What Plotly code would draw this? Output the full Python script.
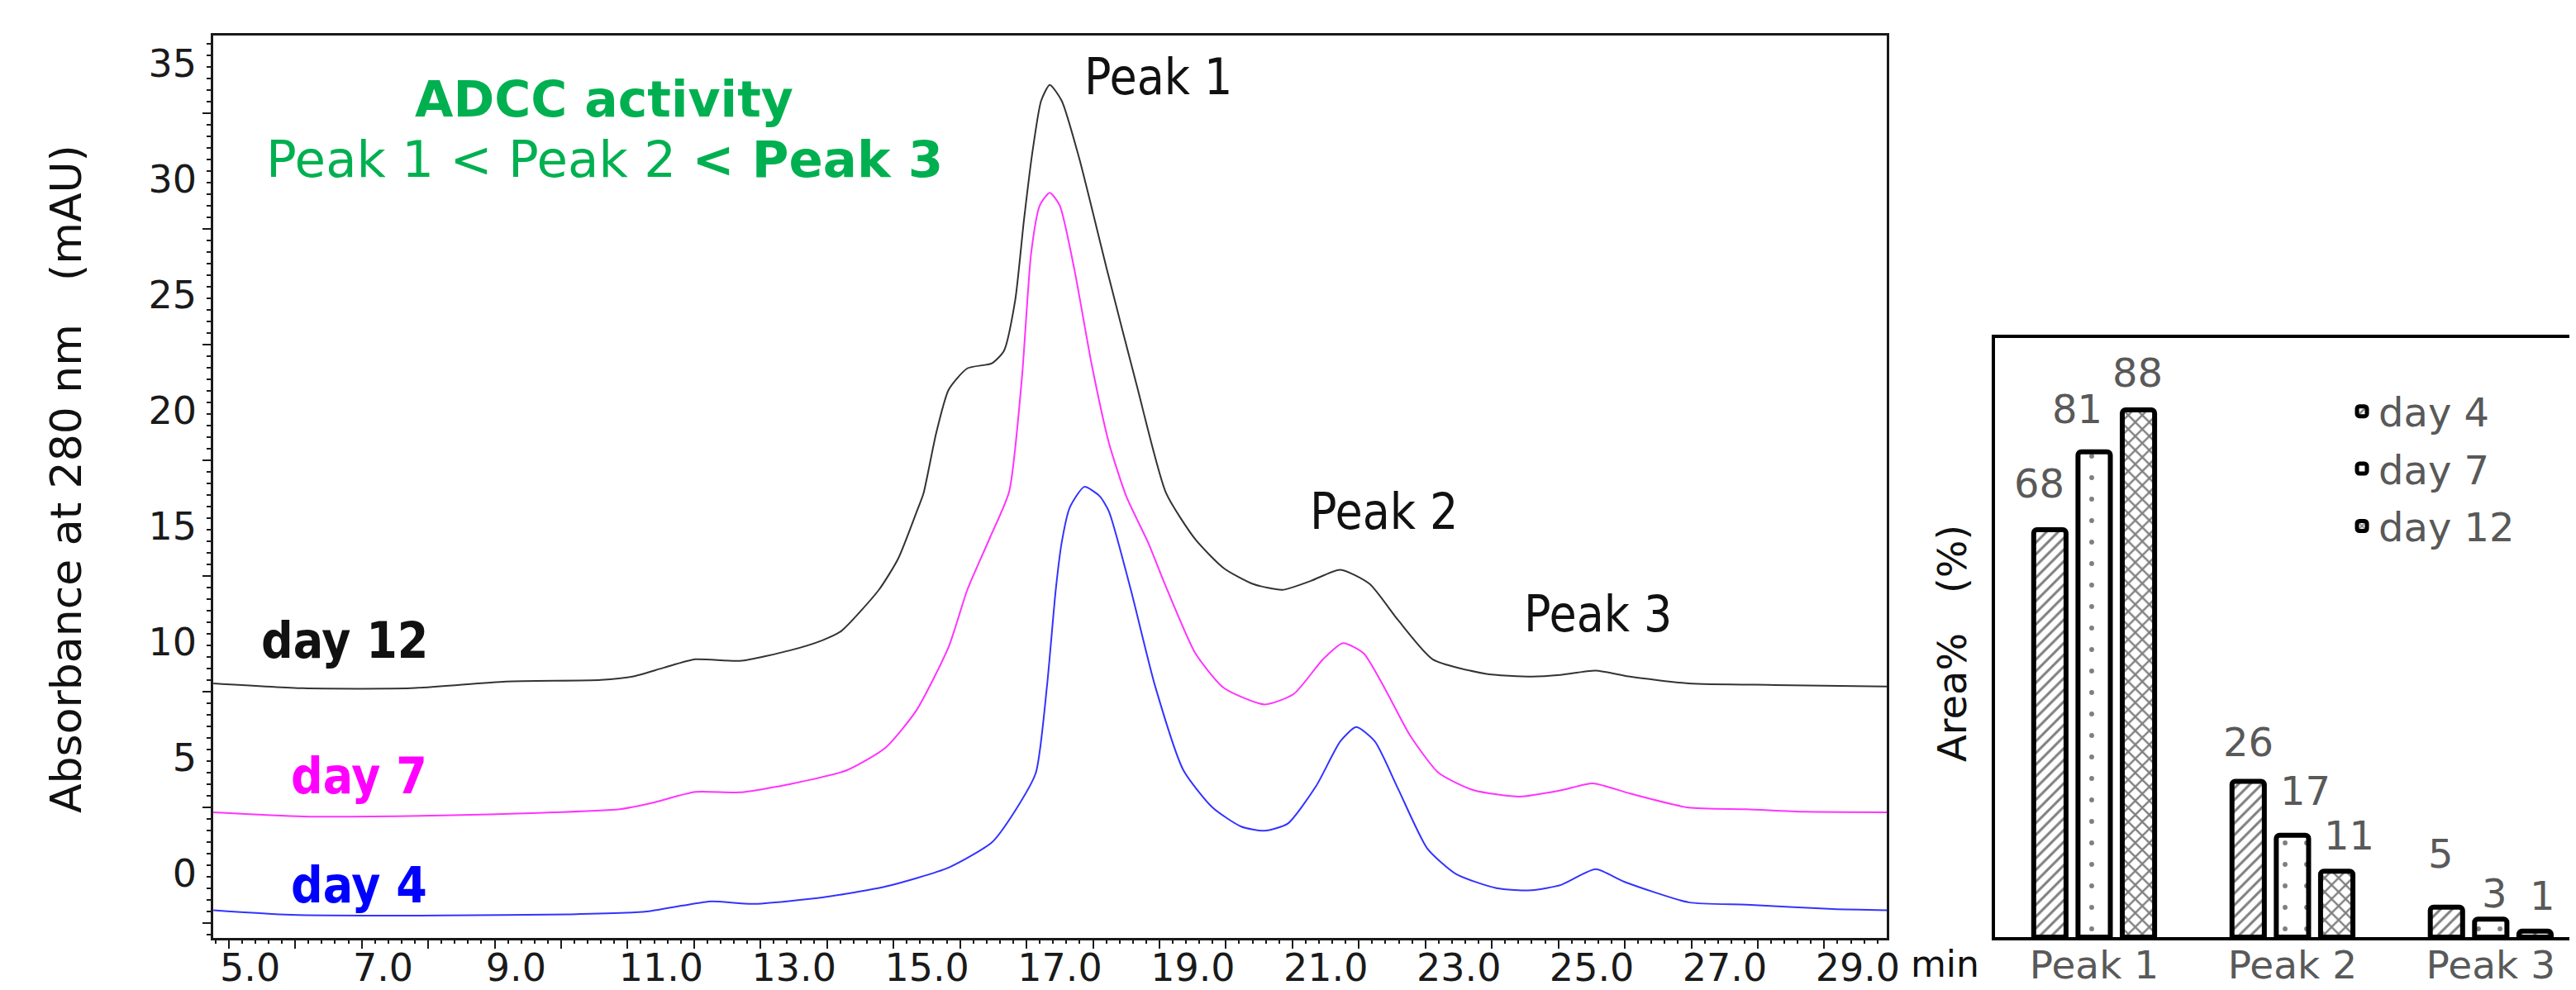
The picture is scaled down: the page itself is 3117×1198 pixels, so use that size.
import plotly.graph_objects as go

# ---------------- chromatogram data ----------------
t_day12 = [4.77, 6.12, 7.74, 9.17, 10.6, 11.07, 11.55, 12.02, 12.69, 13.45, 13.93, 14.21,
           14.78, 15.07, 15.35, 15.45, 15.64, 15.83, 16.11, 16.48, 16.66, 16.83, 16.96,
           17.09, 17.22, 17.35, 17.53, 17.79, 18.23, 18.66, 19.1, 19.54, 19.97, 20.41,
           20.85, 21.28, 21.72, 22.16, 22.59, 23.11, 23.9, 24.6, 25.03, 25.56, 26.08,
           26.96, 28.26, 29.94]
a_day12 = [8.21, 8.0, 8.0, 8.29, 8.36, 8.5, 8.89, 9.25, 9.18, 9.64, 10.07, 10.46,
           12.25, 13.6, 15.64, 16.41, 19.0, 20.9, 21.82, 22.04, 22.57, 24.76, 28.18,
           31.18, 33.38, 34.07, 33.38, 30.93, 25.86, 21.07, 16.43, 14.43, 13.18, 12.5,
           12.25, 12.64, 13.12, 12.51, 10.94, 9.25, 8.63, 8.5, 8.57, 8.76, 8.5,
           8.21, 8.14, 8.07]

t_day7 = [4.77, 6.12, 8.22, 9.65, 10.88, 11.36, 12.02, 12.69, 13.45, 14.3, 14.88, 15.35,
          15.83, 16.11, 16.45, 16.74, 16.93, 17.07, 17.2, 17.35, 17.5, 17.72, 17.98,
          18.24, 18.5, 18.83, 19.1, 19.54, 19.97, 20.58, 21.02, 21.46, 21.76, 22.07,
          22.41, 22.77, 23.2, 23.73, 24.42, 25.04, 25.52, 26.08, 26.96, 27.83, 28.7, 29.94]
a_day7 = [2.64, 2.46, 2.5, 2.61, 2.77, 3.04, 3.52, 3.5, 3.86, 4.46, 5.43, 7.07,
          9.79, 12.25, 14.5, 16.5, 21.36, 26.8, 28.86, 29.41, 28.86, 26.1, 22.0,
          18.6, 16.3, 14.29, 12.37, 9.51, 8.01, 7.3, 7.75, 9.25, 9.95, 9.51,
          7.88, 5.96, 4.34, 3.59, 3.32, 3.59, 3.89, 3.45, 2.84, 2.77, 2.66, 2.64]

t_day4 = [4.77, 5.94, 8.22, 10.12, 11.26, 11.83, 12.26, 12.88, 13.93, 14.88, 15.83, 16.48,
          16.83, 17.14, 17.31, 17.44, 17.53, 17.65, 17.87, 18.1, 18.24, 18.57, 18.93, 19.36, 19.8,
          20.23, 20.58, 20.93, 21.36, 21.72, 21.96, 22.24, 22.59, 23.03, 23.46, 24.07,
          24.6, 25.04, 25.56, 25.99, 26.96, 27.83, 29.13, 29.94]
a_day4 = [-1.59, -1.79, -1.82, -1.77, -1.66, -1.39, -1.21, -1.32, -1.04, -0.57, 0.25, 1.34,
          2.71, 4.34, 8.14, 12.25, 14.3, 15.8, 16.7, 16.3, 15.64, 12.25, 8.14, 4.46, 2.84,
          2.02, 1.84, 2.15, 3.79, 5.7, 6.32, 5.7, 3.65, 1.07, -0.03, -0.64,
          -0.73, -0.5, 0.18, -0.36, -1.25, -1.35, -1.54, -1.59]

x_tick_vals = list(range(5, 30))
x_tick_text = [f"{v:.1f}" if (v - 5) % 2 == 0 else "" for v in x_tick_vals]
y_tick_vals = [0, 5, 10, 15, 20, 25, 30, 35]
y_tick_text = [str(v) for v in y_tick_vals]
y_long_ticks = [-2.15, 2.85, 7.85, 12.85, 17.85, 22.85, 27.85, 32.85]

# ---------------- bar chart data ----------------
peaks = ["Peak 1", "Peak 2", "Peak 3"]
area_day4 = [68, 26, 5]
area_day7 = [81, 17, 3]
area_day12 = [88, 11, 1]

# label nudges (px) for value labels: [dx, gap above bar]
nudge_day4 = [(-13, 38), (0, 30), (-7, 47)]
nudge_day7 = [(-20, 34), (16, 36), (5, 13)]
nudge_day12 = [(-1, 27), (15, 25), (9, 25)]

COND = "DejaVu Sans Condensed, DejaVu Sans, sans-serif"
SANS = "DejaVu Sans, sans-serif"
GRAY = "#595959"
GREEN = "#00B050"
INK = "#1a1a1a"

# page is 3117x1198; the html body adds an 8px offset, so the figure is 8px smaller
OFF = 8
W, H = 3117 - OFF, 1198 - OFF


def px(p):
    return (p - OFF) / W


def py(p):
    return 1 - (p - OFF) / H


X_RANGE = [4.767, 29.94]
Y_RANGE = [-2.79, 36.2]

fig = go.Figure()

line_style = dict(width=2, shape="spline", smoothing=0.6)
fig.add_trace(go.Scatter(x=t_day12, y=a_day12, mode="lines", line=dict(color="#333333", **line_style),
                         showlegend=False, xaxis="x", yaxis="y"))
fig.add_trace(go.Scatter(x=t_day7, y=a_day7, mode="lines", line=dict(color="#ff33ff", **line_style),
                         showlegend=False, xaxis="x", yaxis="y"))
fig.add_trace(go.Scatter(x=t_day4, y=a_day4, mode="lines", line=dict(color="#3333ff", **line_style),
                         showlegend=False, xaxis="x", yaxis="y"))
# empty traces holding the tick-only overlay axes
fig.add_trace(go.Scatter(x=[], y=[], showlegend=False, xaxis="x", yaxis="y3", hoverinfo="skip"))
fig.add_trace(go.Scatter(x=[], y=[], showlegend=False, xaxis="x3", yaxis="y", hoverinfo="skip"))

patterns = [
    dict(shape="/", fgcolor="black", bgcolor="white", size=10, solidity=0.3),
    dict(shape=".", fgcolor="black", bgcolor="white", size=26, solidity=0.04),
    dict(shape="x", fgcolor="black", bgcolor="white", size=12, solidity=0.35),
]
series = [("day 4", area_day4, nudge_day4), ("day 7", area_day7, nudge_day7), ("day 12", area_day12, nudge_day12)]
for k, (name, vals, _) in enumerate(series):
    fig.add_trace(go.Bar(x=peaks, y=vals, name=name, xaxis="x2", yaxis="y2", legendgroup=name,
                         marker=dict(color="white", line=dict(color="black", width=6), pattern=patterns[k], cornerradius=4)))

ann = []
# value labels above bars
slot = 240 * (1 - 0.33) / 3
for k, (name, vals, nud) in enumerate(series):
    for j, v in enumerate(vals):
        ann.append(dict(x=peaks[j], y=v, xref="x2", yref="y2", text=str(v), showarrow=False,
                        yanchor="bottom", xanchor="center", xshift=(k - 1) * slot + nud[j][0], yshift=nud[j][1] - 12,
                        font=dict(family=SANS, size=48, color=GRAY)))

# chromatogram labels
ann += [
    dict(x=10.65, y=33.45, xref="x", yref="y", text="<b>ADCC activity</b>", showarrow=False,
         font=dict(family=SANS, size=60, color=GREEN)),
    dict(x=10.65, y=30.85, xref="x", yref="y", text="Peak 1 &lt; Peak 2 <b>&lt; Peak 3</b>", showarrow=False,
         font=dict(family=SANS, size=61, color=GREEN)),
    dict(x=18.98, y=34.4, xref="x", yref="y", text="Peak 1", showarrow=False, font=dict(family=COND, size=60, color="#111")),
    dict(x=22.37, y=15.65, xref="x", yref="y", text="Peak 2", showarrow=False, font=dict(family=COND, size=60, color="#111")),
    dict(x=25.6, y=11.2, xref="x", yref="y", text="Peak 3", showarrow=False, font=dict(family=COND, size=60, color="#111")),
    dict(x=6.74, y=10.07, xref="x", yref="y", text="<b>day 12</b>", showarrow=False, font=dict(family=COND, size=60, color="#111")),
    dict(x=6.96, y=4.2, xref="x", yref="y", text="<b>day 7</b>", showarrow=False, font=dict(family=COND, size=60, color="#ff00ff")),
    dict(x=6.96, y=-0.5, xref="x", yref="y", text="<b>day 4</b>", showarrow=False, font=dict(family=COND, size=60, color="#0000ff")),
    dict(x=px(80), y=py(580), xref="paper", yref="paper", text="Absorbance at 280 nm\u3000(mAU)", textangle=-90,
         xanchor="center", yanchor="middle", showarrow=False, font=dict(family=SANS, size=52, color="#111")),
    dict(x=px(2310), y=py(1166), xref="paper", yref="paper", text="min", xanchor="left", yanchor="middle",
         showarrow=False, font=dict(family=SANS, size=44, color="#111")),
    dict(x=px(2362), y=py(779), xref="paper", yref="paper", text="Area%\u3000(%)", textangle=-90,
         xanchor="center", yanchor="middle", showarrow=False, font=dict(family=SANS, size=48, color="#111")),
]

fig.update_layout(
    width=W, height=H, margin=dict(l=0, r=0, t=0, b=0, autoexpand=False),
    paper_bgcolor="white", plot_bgcolor="white",
    barmode="group", bargap=0.33, bargroupgap=0.27,
    annotations=ann,
    legend=dict(x=px(2838), y=py(460), xanchor="left", yanchor="top", bgcolor="rgba(0,0,0,0)",
                traceorder="grouped", tracegroupgap=4, font=dict(family=SANS, size=48, color=GRAY)),
    # label-carrying x axis
    xaxis=dict(domain=[px(258), px(2283)], anchor="y", range=X_RANGE, showline=True, mirror=True, automargin=False,
               linecolor=INK, linewidth=2.5, showgrid=False, zeroline=False,
               tickmode="array", tickvals=x_tick_vals, ticktext=x_tick_text, ticks="",
               ticklabelposition="outside right", ticklabelshift=-12, ticklabelstandoff=-6,
               tickfont=dict(family=SANS, size=46, color=INK)),
    # visible x ticks
    xaxis3=dict(overlaying="x", anchor="y", side="bottom", range=X_RANGE, showline=False, showgrid=False,
                automargin=False, zeroline=False, showticklabels=False, tickmode="array", tickvals=x_tick_vals,
                ticks="outside", ticklen=12, tickwidth=2, tickcolor=INK,
                minor=dict(dtick=0.2, tick0=5, ticks="outside", ticklen=6, tickwidth=2, tickcolor=INK)),
    yaxis=dict(domain=[py(1135), py(43)], anchor="x", range=Y_RANGE, showline=True, mirror=True,
               automargin=False, linecolor=INK, linewidth=2.5, showgrid=False, zeroline=False,
               tickmode="array", tickvals=y_tick_vals, ticktext=y_tick_text, ticks="",
               ticklabelstandoff=8, tickfont=dict(family=SANS, size=46, color=INK)),
    # visible y ticks
    yaxis3=dict(overlaying="y", anchor="x", side="left", range=Y_RANGE, showline=False, showgrid=False,
                automargin=False, zeroline=False, showticklabels=False, tickmode="array", tickvals=y_long_ticks,
                ticks="outside", ticklen=12, tickwidth=2, tickcolor=INK,
                minor=dict(dtick=0.5, tick0=2.85, ticks="outside", ticklen=7, tickwidth=2, tickcolor=INK)),
    xaxis2=dict(domain=[px(2414), 1.0], anchor="y2", type="category", range=[-0.5, 2.43], showline=True, mirror=True,
                automargin=False, linecolor="black", linewidth=3.5, showgrid=False, zeroline=False, ticks="",
                ticklabelstandoff=-10, tickfont=dict(family=SANS, size=47, color=GRAY)),
    yaxis2=dict(domain=[py(1134), py(409)], anchor="x2", range=[0, 100], showline=True, mirror=False,
                automargin=False, linecolor="black", linewidth=3.5, showgrid=False, zeroline=False,
                showticklabels=False, ticks=""),
)

fig.write_html("out.html")
